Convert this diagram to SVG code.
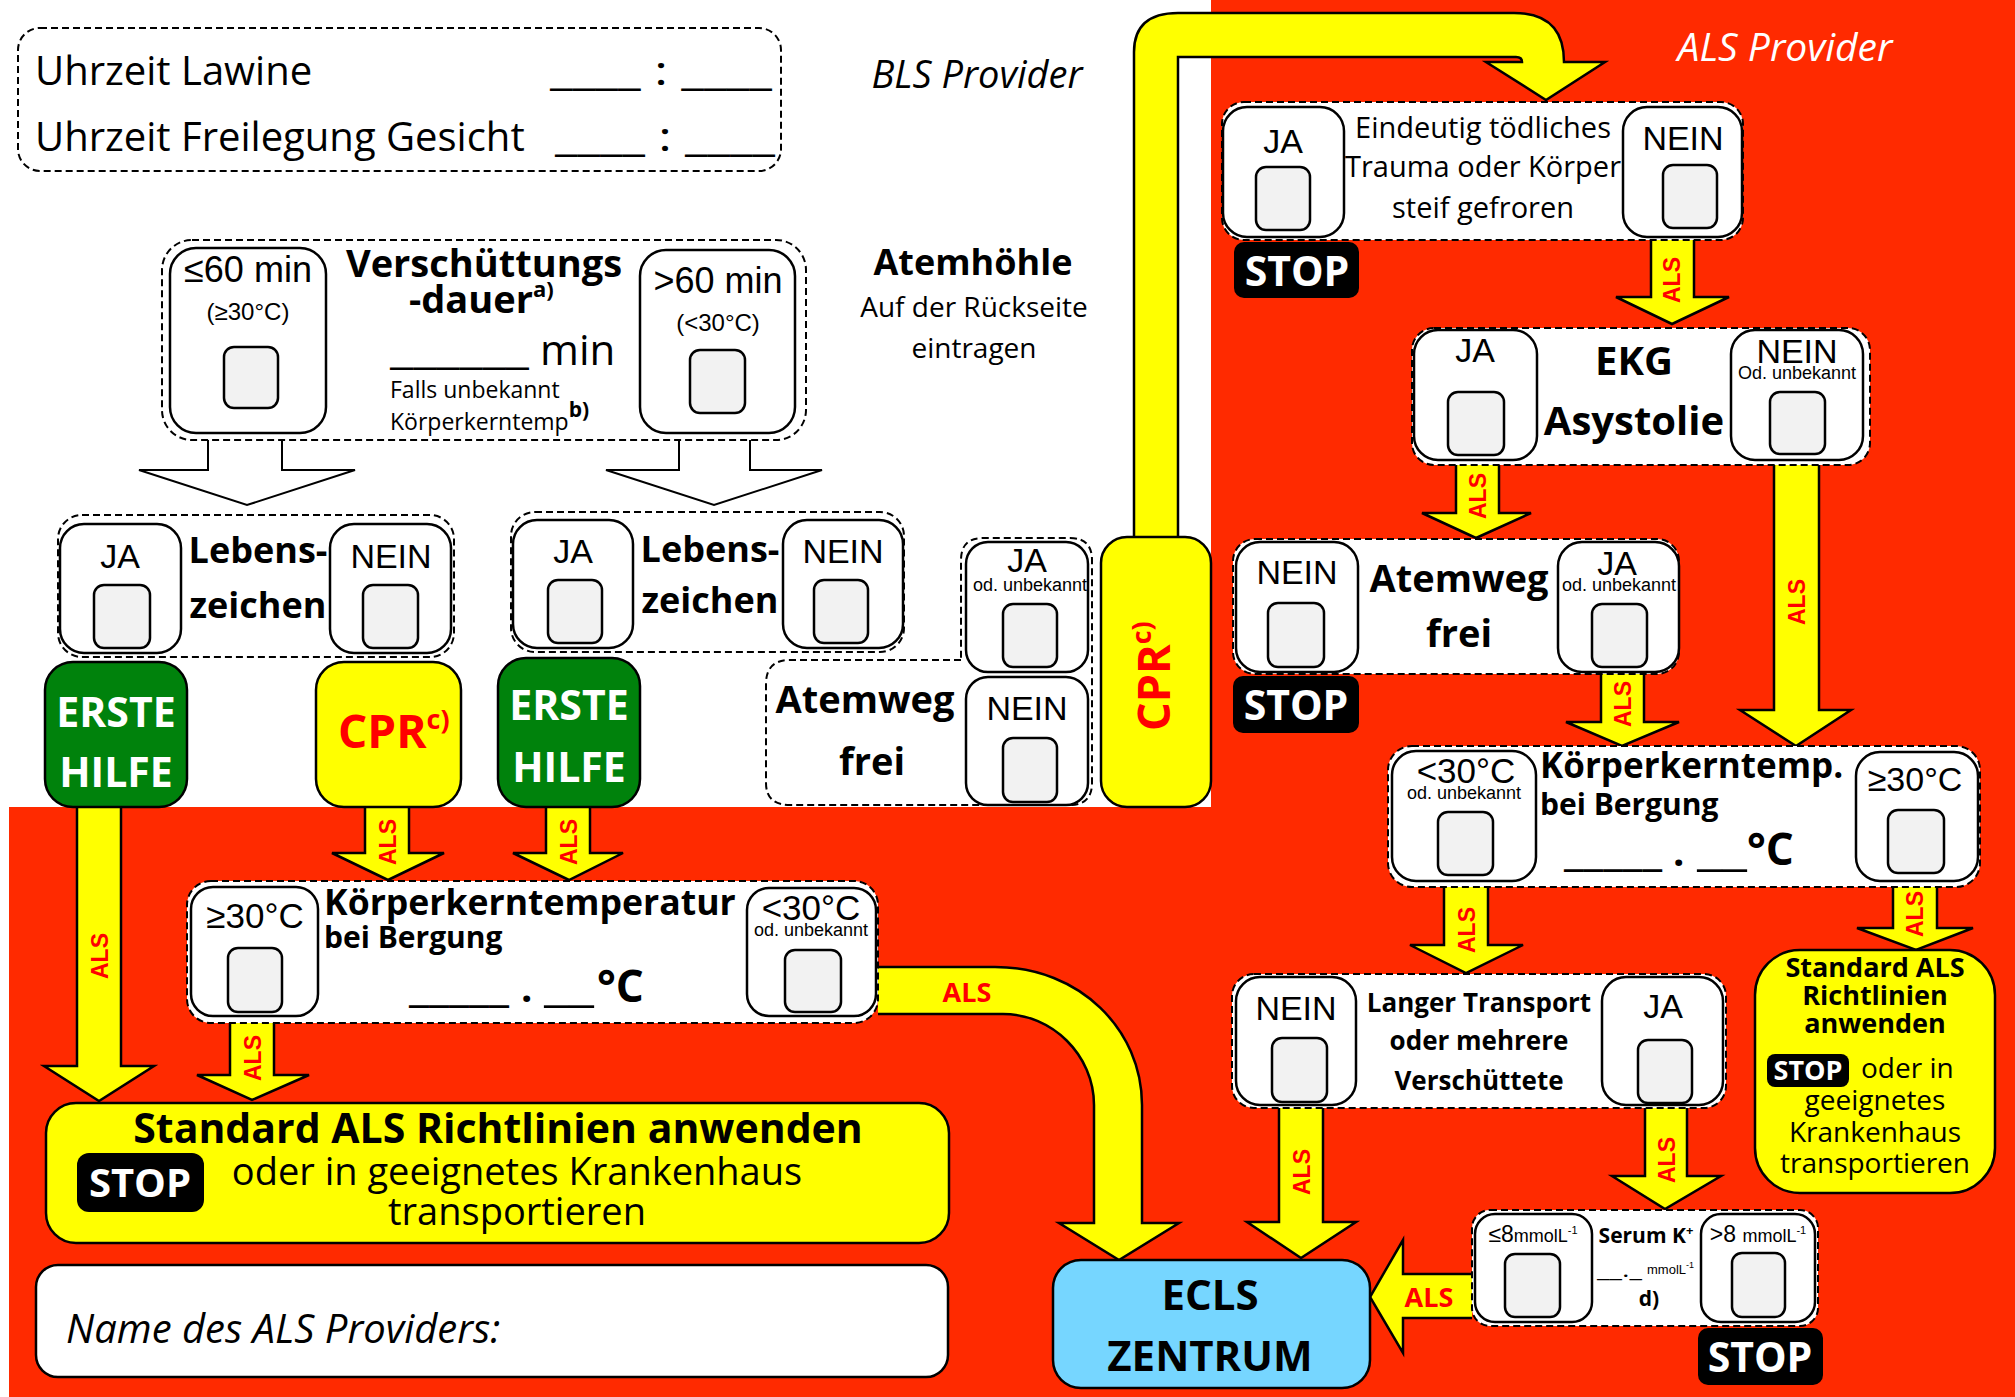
<svg xmlns="http://www.w3.org/2000/svg" width="2015" height="1397" viewBox="0 0 2015 1397">
<style>
.os{font-family:"Open Sans","Liberation Sans",sans-serif}
.ar{font-family:"Liberation Sans",Arial,sans-serif}
.b{font-weight:bold}
.i{font-style:italic}
.m{text-anchor:middle}
.dash{fill:#fff;stroke:#000;stroke-width:2;stroke-dasharray:7 4}
.ib{fill:#fff;stroke:#000;stroke-width:2.5}
.cb{fill:#f2f2f2;stroke:#000;stroke-width:2.5}
.arr{fill:#ffff00;stroke:#000;stroke-width:2.5}
.hol{fill:#fff;stroke:#000;stroke-width:2}
.als{font-family:"Liberation Sans",Arial,sans-serif;font-weight:bold;fill:#ff0000;font-size:23px;text-anchor:middle;dominant-baseline:central}
.alsh{font-family:"Open Sans","Liberation Sans",sans-serif;font-weight:bold;fill:#ff0000;font-size:27px;text-anchor:middle}
.stop{fill:#000}
.stopt{font-family:"Open Sans","Liberation Sans",sans-serif;font-weight:bold;fill:#fff;text-anchor:middle}
.yel{fill:#ffff00;stroke:#000;stroke-width:2.5}
.grn{fill:#00820c;stroke:#000;stroke-width:2.5}
.wt{fill:#fff}
.red{fill:#ff0000}
</style>
<rect x="0" y="0" width="2015" height="1397" fill="#fff"/>
<path d="M1211,0 H2015 V1397 H9 V807 H1211 Z" fill="#ff2a00"/>

<g id="connectors">
  <path class="arr" d="M1134,537 V52 Q1134,13 1178,13 H1514 Q1564,13 1564,62 H1605 L1546,100 L1486,62 H1522 Q1522,57 1516,57 H1178 V537"/>
  <path class="hol" d="M208,440 V470 H139 L247,505 L355,470 H282 V440"/>
  <path class="hol" d="M679,440 V470 H606 L714,505 L822,470 H750 V440"/>
  <path class="arr" d="M77,807 V1066 H44 L99,1101 L154,1066 H121 V807"/>
  <text class="als" transform="translate(100,956) rotate(-90)">ALS</text>
  <path class="arr" d="M365,807 V853 H332 L388,880 L444,853 H409 V807"/>
  <text class="als" transform="translate(388,842) rotate(-90)">ALS</text>
  <path class="arr" d="M546,807 V853 H513 L569,880 L623,853 H590 V807"/>
  <text class="als" transform="translate(569,842) rotate(-90)">ALS</text>
  <path class="arr" d="M230,1023 V1075 H197 L252,1100 L309,1075 H274 V1023"/>
  <text class="als" transform="translate(253,1058) rotate(-90)">ALS</text>
  <path class="arr" d="M878,967 H995 C1080,967 1142,1030 1142,1105 V1223 H1179 L1119,1260 L1059,1223 H1094 V1105 C1094,1055 1052,1014 1003,1014 H878"/>
  <text class="alsh" x="967" y="1002">ALS</text>
  <path class="arr" d="M1651,240 V297 H1616 L1672,324 L1729,297 H1694 V240"/>
  <text class="als" transform="translate(1672,280) rotate(-90)">ALS</text>
  <path class="arr" d="M1456,465 V513 H1422 L1476,538 L1531,513 H1499 V465"/>
  <text class="als" transform="translate(1478,496) rotate(-90)">ALS</text>
  <path class="arr" d="M1774,465 V710 H1740 L1796,746 L1851,710 H1819 V465"/>
  <text class="als" transform="translate(1797,602) rotate(-90)">ALS</text>
  <path class="arr" d="M1601,674 V722 H1566 L1622,746 L1679,722 H1644 V674"/>
  <text class="als" transform="translate(1623,704) rotate(-90)">ALS</text>
  <path class="arr" d="M1444,887 V945 H1410 L1466,973 L1523,945 H1488 V887"/>
  <text class="als" transform="translate(1467,930) rotate(-90)">ALS</text>
  <path class="arr" d="M1893,887 V928 H1857 L1916,950 L1973,928 H1937 V887"/>
  <text class="als" transform="translate(1915,914) rotate(-90)">ALS</text>
  <path class="arr" d="M1279,1108 V1222 H1247 L1301,1258 L1356,1222 H1323 V1108"/>
  <text class="als" transform="translate(1302,1172) rotate(-90)">ALS</text>
  <path class="arr" d="M1645,1108 V1176 H1612 L1665,1209 L1721,1176 H1687 V1108"/>
  <text class="als" transform="translate(1667,1160) rotate(-90)">ALS</text>
  <path class="arr" d="M1472,1274 H1403 V1240 L1370,1297 L1403,1353 V1318 H1472"/>
  <text class="alsh" x="1429" y="1307">ALS</text>
</g>

<g id="uhrzeit">
  <rect class="dash" x="18" y="28" width="763" height="143" rx="22"/>
  <text class="os" x="35" y="85" font-size="40">Uhrzeit Lawine</text>
  <text class="os" x="35" y="151" font-size="40">Uhrzeit Freilegung Gesicht</text>
  <text class="os" x="550" y="85" font-size="40" textLength="222" lengthAdjust="spacingAndGlyphs">____ : ____</text>
  <text class="os" x="555" y="151" font-size="40" textLength="220" lengthAdjust="spacingAndGlyphs">____ : ____</text>
</g>
<text id="bls-provider" class="os i m" x="977" y="88" font-size="38">BLS Provider</text>
<text id="als-provider" class="os i m wt" x="1785" y="61" font-size="39">ALS Provider</text>

<g id="atemhoehle">
  <text class="os b m" x="973" y="275" font-size="36">Atemhöhle</text>
  <text class="os m" x="974" y="317" font-size="28">Auf der Rückseite</text>
  <text class="os m" x="974" y="358" font-size="28">eintragen</text>
</g>

<g id="verschuettung">
  <rect class="dash" x="162" y="240" width="644" height="200" rx="30"/>
  <rect class="ib" x="170" y="248" width="156" height="185" rx="26"/>
  <text class="ar m" x="248" y="282" font-size="36">≤60 min</text>
  <text class="ar m" x="248" y="320" font-size="24">(≥30°C)</text>
  <rect class="cb" x="224" y="347" width="54" height="61" rx="10"/>
  <rect class="ib" x="640" y="250" width="155" height="183" rx="26"/>
  <text class="ar m" x="718" y="293" font-size="36">&gt;60 min</text>
  <text class="ar m" x="718" y="331" font-size="24">(&lt;30°C)</text>
  <rect class="cb" x="690" y="350" width="55" height="63" rx="10"/>
  <text class="os b m" x="484" y="277" font-size="38">Verschüttungs</text>
  <text class="os b" x="409" y="313" font-size="38">-dauer<tspan font-size="22" dy="-16">a)</tspan></text>
  <text class="os" x="390" y="364" font-size="40" textLength="139" lengthAdjust="spacingAndGlyphs">______</text>
  <text class="os" x="540" y="365" font-size="42">min</text>
  <text class="os" x="390" y="398" font-size="23">Falls unbekannt</text>
  <text class="os" x="390" y="430" font-size="23">Körperkerntemp<tspan class="b" font-size="21" dy="-13">b)</tspan></text>
</g>

<g id="lebenszeichen1">
  <rect class="dash" x="58" y="515" width="396" height="142" rx="24"/>
  <rect class="ib" x="60" y="524" width="121" height="129" rx="24"/>
  <text class="ar m" x="120" y="568" font-size="34">JA</text>
  <rect class="cb" x="94" y="585" width="56" height="63" rx="10"/>
  <rect class="ib" x="330" y="524" width="121" height="129" rx="24"/>
  <text class="ar m" x="391" y="568" font-size="34">NEIN</text>
  <rect class="cb" x="363" y="585" width="55" height="63" rx="10"/>
  <text class="os b m" x="258" y="563" font-size="36">Lebens-</text>
  <text class="os b m" x="258" y="618" font-size="36">zeichen</text>
</g>

<g id="lebenszeichen2">
  <rect class="dash" x="511" y="512" width="393" height="140" rx="24"/>
  <rect class="ib" x="513" y="520" width="120" height="128" rx="24"/>
  <text class="ar m" x="573" y="563" font-size="34">JA</text>
  <rect class="cb" x="548" y="580" width="54" height="63" rx="10"/>
  <rect class="ib" x="783" y="520" width="120" height="128" rx="24"/>
  <text class="ar m" x="843" y="563" font-size="34">NEIN</text>
  <rect class="cb" x="814" y="580" width="54" height="63" rx="10"/>
  <text class="os b m" x="710" y="562" font-size="36">Lebens-</text>
  <text class="os b m" x="710" y="613" font-size="36">zeichen</text>
</g>

<g id="erste-hilfe-1">
  <rect class="grn" x="45" y="662" width="142" height="145" rx="28"/>
  <text class="os b m wt" x="116" y="727" font-size="41">ERSTE</text>
  <text class="os b m wt" x="116" y="787" font-size="41">HILFE</text>
</g>
<g id="cpr-1">
  <rect class="yel" x="316" y="662" width="145" height="145" rx="28"/>
  <text class="os b red" x="338" y="748" font-size="46">CPR<tspan font-size="27" dy="-19">c)</tspan></text>
</g>
<g id="erste-hilfe-2">
  <rect class="grn" x="498" y="658" width="142" height="149" rx="28"/>
  <text class="os b m wt" x="569" y="720" font-size="41">ERSTE</text>
  <text class="os b m wt" x="569" y="782" font-size="41">HILFE</text>
</g>

<g id="atemweg-links">
  <path class="dash" d="M961,660 H790 Q766,660 766,684 V783 Q766,805 790,805 H1070 Q1092,805 1092,783 V560 Q1092,538 1070,538 H983 Q961,538 961,560 Z"/>
  <rect class="ib" x="966" y="542" width="122" height="130" rx="22"/>
  <text class="ar m" x="1027" y="572" font-size="34">JA</text>
  <text class="ar m" x="1030" y="591" font-size="18">od. unbekannt</text>
  <rect class="cb" x="1003" y="604" width="54" height="63" rx="10"/>
  <rect class="ib" x="966" y="677" width="122" height="128" rx="22"/>
  <text class="ar m" x="1027" y="720" font-size="34">NEIN</text>
  <rect class="cb" x="1003" y="738" width="54" height="64" rx="10"/>
  <text class="os b m" x="865" y="713" font-size="38">Atemweg</text>
  <text class="os b m" x="872" y="775" font-size="38">frei</text>
</g>

<g id="cpr-2">
  <rect class="yel" x="1101" y="537" width="110" height="270" rx="26"/>
  <text class="os b red" transform="translate(1170,731) rotate(-90)" font-size="45">CPR<tspan font-size="27" dy="-19">c)</tspan></text>
</g>

<g id="kkt-links">
  <rect class="dash" x="187" y="881" width="691" height="142" rx="24"/>
  <rect class="ib" x="191" y="887" width="127" height="129" rx="22"/>
  <text class="ar m" x="255" y="928" font-size="35">≥30°C</text>
  <rect class="cb" x="228" y="948" width="54" height="64" rx="10"/>
  <rect class="ib" x="747" y="888" width="129" height="128" rx="22"/>
  <text class="ar m" x="811" y="920" font-size="35">&lt;30°C</text>
  <text class="ar m" x="811" y="936" font-size="18">od. unbekannt</text>
  <rect class="cb" x="785" y="950" width="56" height="62" rx="10"/>
  <text class="os b" x="324" y="915" font-size="35.6">Körperkerntemperatur</text>
  <text class="os b" x="324" y="948" font-size="30">bei Bergung</text>
  <text class="os b" x="409" y="1002" font-size="40" textLength="100" lengthAdjust="spacingAndGlyphs">_____</text>
  <text class="os b" x="521" y="1002" font-size="40">.</text>
  <text class="os b" x="544" y="1002" font-size="40" textLength="50" lengthAdjust="spacingAndGlyphs">__</text>
  <text class="os b" x="597" y="1002" font-size="44">°C</text>
</g>

<g id="standard-als-links">
  <rect class="yel" x="46" y="1103" width="903" height="140" rx="30"/>
  <text class="os b m" x="498" y="1143" font-size="41">Standard ALS Richtlinien anwenden</text>
  <rect class="stop" x="77" y="1153" width="127" height="59" rx="12"/>
  <text class="stopt" x="140" y="1197" font-size="40">STOP</text>
  <text class="os m" x="517" y="1185" font-size="38">oder in geeignetes Krankenhaus</text>
  <text class="os m" x="517" y="1225" font-size="38">transportieren</text>
</g>

<g id="name-als-provider">
  <rect class="ib" x="36" y="1265" width="912" height="112" rx="22"/>
  <text class="os i" x="66" y="1343" font-size="40">Name des ALS Providers:</text>
</g>

<g id="ecls">
  <rect x="1053" y="1260" width="317" height="128" rx="28" fill="#76d6ff" stroke="#000" stroke-width="2.5"/>
  <text class="os b m" x="1210" y="1310" font-size="42">ECLS</text>
  <text class="os b m" x="1210" y="1371" font-size="42">ZENTRUM</text>
</g>

<g id="eindeutig">
  <rect class="dash" x="1222" y="102" width="521" height="138" rx="22"/>
  <rect class="ib" x="1223" y="107" width="121" height="130" rx="24"/>
  <text class="ar m" x="1283" y="153" font-size="34">JA</text>
  <rect class="cb" x="1256" y="167" width="54" height="63" rx="10"/>
  <rect class="ib" x="1623" y="107" width="119" height="130" rx="24"/>
  <text class="ar m" x="1683" y="150" font-size="34">NEIN</text>
  <rect class="cb" x="1663" y="165" width="54" height="63" rx="10"/>
  <text class="os m" x="1483" y="138" font-size="29">Eindeutig tödliches</text>
  <text class="os m" x="1483" y="177" font-size="29">Trauma oder Körper</text>
  <text class="os m" x="1483" y="218" font-size="29">steif gefroren</text>
  <rect class="stop" x="1234" y="242" width="125" height="56" rx="10"/>
  <text class="stopt" x="1297" y="286" font-size="41">STOP</text>
</g>

<g id="ekg">
  <rect class="dash" x="1412" y="328" width="458" height="137" rx="22"/>
  <rect class="ib" x="1414" y="330" width="123" height="130" rx="24"/>
  <text class="ar m" x="1475" y="362" font-size="34">JA</text>
  <rect class="cb" x="1448" y="392" width="56" height="63" rx="10"/>
  <rect class="ib" x="1731" y="330" width="132" height="130" rx="24"/>
  <text class="ar m" x="1797" y="363" font-size="34">NEIN</text>
  <text class="ar m" x="1797" y="379" font-size="18">Od. unbekannt</text>
  <rect class="cb" x="1770" y="392" width="55" height="62" rx="10"/>
  <text class="os b m" x="1634" y="375" font-size="40">EKG</text>
  <text class="os b m" x="1634" y="435" font-size="40">Asystolie</text>
</g>

<g id="atemweg-rechts">
  <rect class="dash" x="1233" y="539" width="446" height="135" rx="22"/>
  <rect class="ib" x="1236" y="542" width="122" height="130" rx="24"/>
  <text class="ar m" x="1297" y="584" font-size="34">NEIN</text>
  <rect class="cb" x="1268" y="603" width="56" height="64" rx="10"/>
  <rect class="ib" x="1558" y="542" width="121" height="130" rx="24"/>
  <text class="ar m" x="1617" y="575" font-size="34">JA</text>
  <text class="ar m" x="1619" y="591" font-size="18">od. unbekannt</text>
  <rect class="cb" x="1592" y="604" width="55" height="63" rx="10"/>
  <text class="os b m" x="1459" y="592" font-size="38">Atemweg</text>
  <text class="os b m" x="1459" y="647" font-size="38">frei</text>
  <rect class="stop" x="1233" y="676" width="126" height="57" rx="10"/>
  <text class="stopt" x="1296" y="720" font-size="41">STOP</text>
</g>

<g id="kkt-rechts">
  <rect class="dash" x="1388" y="746" width="592" height="141" rx="24"/>
  <rect class="ib" x="1392" y="751" width="144" height="130" rx="24"/>
  <text class="ar m" x="1466" y="783" font-size="35">&lt;30°C</text>
  <text class="ar m" x="1464" y="799" font-size="18">od. unbekannt</text>
  <rect class="cb" x="1438" y="812" width="55" height="63" rx="10"/>
  <rect class="ib" x="1856" y="752" width="122" height="129" rx="24"/>
  <text class="ar m" x="1915" y="791" font-size="34">≥30°C</text>
  <rect class="cb" x="1888" y="810" width="56" height="63" rx="10"/>
  <text class="os b" x="1540" y="778" font-size="35">Körperkerntemp.</text>
  <text class="os b" x="1540" y="815" font-size="30">bei Bergung</text>
  <text class="os b" x="1564" y="866" font-size="40" textLength="98" lengthAdjust="spacingAndGlyphs">_____</text>
  <text class="os b" x="1673" y="866" font-size="40">.</text>
  <text class="os b" x="1697" y="866" font-size="40" textLength="50" lengthAdjust="spacingAndGlyphs">__</text>
  <text class="os b" x="1747" y="865" font-size="44">°C</text>
</g>

<g id="standard-als-rechts">
  <rect class="yel" x="1755" y="950" width="240" height="243" rx="45"/>
  <text class="os b m" x="1875" y="977" font-size="27">Standard ALS</text>
  <text class="os b m" x="1875" y="1005" font-size="27">Richtlinien</text>
  <text class="os b m" x="1875" y="1033" font-size="27">anwenden</text>
  <rect class="stop" x="1767" y="1054" width="82" height="33" rx="8"/>
  <text class="stopt" x="1808" y="1080" font-size="27">STOP</text>
  <text class="os" x="1861" y="1078" font-size="28">oder in</text>
  <text class="os m" x="1875" y="1110" font-size="28">geeignetes</text>
  <text class="os m" x="1875" y="1142" font-size="28">Krankenhaus</text>
  <text class="os m" x="1875" y="1173" font-size="28">transportieren</text>
</g>

<g id="langer-transport">
  <rect class="dash" x="1232" y="974" width="494" height="134" rx="22"/>
  <rect class="ib" x="1236" y="977" width="120" height="128" rx="24"/>
  <text class="ar m" x="1296" y="1020" font-size="34">NEIN</text>
  <rect class="cb" x="1272" y="1038" width="55" height="64" rx="10"/>
  <rect class="ib" x="1602" y="977" width="121" height="128" rx="24"/>
  <text class="ar m" x="1663" y="1018" font-size="34">JA</text>
  <rect class="cb" x="1638" y="1040" width="54" height="63" rx="10"/>
  <text class="os b m" x="1479" y="1012" font-size="26">Langer Transport</text>
  <text class="os b m" x="1479" y="1050" font-size="26">oder mehrere</text>
  <text class="os b m" x="1479" y="1090" font-size="26">Verschüttete</text>
</g>

<g id="serum-k">
  <rect class="dash" x="1472" y="1210" width="346" height="116" rx="18"/>
  <rect class="ib" x="1475" y="1214" width="117" height="108" rx="20"/>
  <text class="ar m" x="1533" y="1242"><tspan font-size="23">≤8</tspan><tspan font-size="18">mmolL</tspan><tspan font-size="11" dy="-8">-1</tspan></text>
  <rect class="cb" x="1505" y="1254" width="55" height="63" rx="10"/>
  <rect class="ib" x="1701" y="1214" width="114" height="108" rx="20"/>
  <text class="ar m" x="1758" y="1242"><tspan font-size="23">&gt;8 </tspan><tspan font-size="18">mmolL</tspan><tspan font-size="11" dy="-8">-1</tspan></text>
  <rect class="cb" x="1732" y="1253" width="53" height="64" rx="10"/>
  <text class="os b m" x="1646" y="1243" font-size="21">Serum K<tspan font-size="13" dy="-8">+</tspan></text>
  <text class="os" x="1597" y="1277" font-size="20" textLength="45" lengthAdjust="spacingAndGlyphs">__._</text>
  <text class="ar" x="1647" y="1274" font-size="13">mmolL<tspan font-size="9" dy="-6">-1</tspan></text>
  <text class="os b m" x="1649" y="1306" font-size="21">d)</text>
  <rect class="stop" x="1698" y="1328" width="125" height="57" rx="10"/>
  <text class="stopt" x="1760" y="1372" font-size="41">STOP</text>
</g>
</svg>
